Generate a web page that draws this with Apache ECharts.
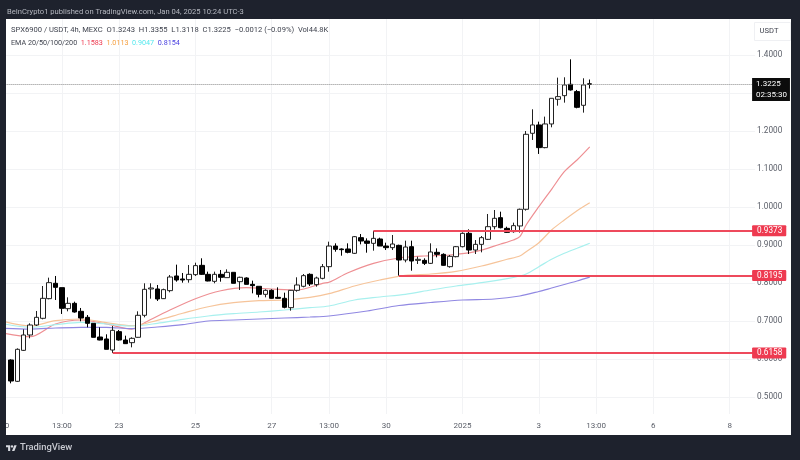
<!DOCTYPE html>
<html>
<head>
<meta charset="utf-8">
<style>html,body{margin:0;padding:0;background:#1e222d}#chart{width:800px;height:460px}</style>
<script src="https://cdn.jsdelivr.net/npm/echarts@6/dist/echarts.min.js"></script>
</head>
<body>
<div id="chart"></div>
<script>
// 4h candles, slot 0 of the axis is the half hidden "20" tick so candle n sits on slot n+1
const opens = [.5974,.5413,.6228,.6632,.6895,.7071,.7588,.7992,.7878,.7325,.7465,.7255,.7097,.6939,.6579,.6527,.6237,.6720,.6500,.6430,.6571,.7150,.7843,.7843,.7588,.7799,.8185,.8106,.8088,.8220,
  .8465,.8228,.8044,.8228,.8141,.8281,.8035,.8132,.7965,.7913,.7702,.7807,.7623,.7597,.7351,.7807,.7913,.8228,.7957,.8123,.8430,.8973,.8895,.8895,.8781,.9193,.9105,.9044,.9158,.8973,
  .8930,.8991,.8605,.8956,.8596,.8596,.8517,.8807,.8754,.8430,.8693,.8956,.9307,.8868,.9017,.9149,.9482,.9719,.9438,.9351,.9501,.9940,1.1939,1.2159,1.1562,1.2185,1.2834,1.2930,1.3229,1.3036,1.2676,1.3243]
const closes = [.5421,.6255,.6632,.6895,.7097,.7597,.8009,.7886,.7334,.7465,.7237,.7079,.6939,.6571,.6500,.6255,.6755,.6500,.6404,.6544,.7150,.7834,.7869,.7579,.7825,.8158,.8079,.8079,.8228,.8457,
  .8228,.8053,.8228,.8150,.8281,.7992,.8150,.7965,.7930,.7702,.7807,.7597,.7597,.7360,.7807,.7948,.8193,.7974,.8132,.8430,.8973,.8886,.8877,.8807,.9219,.9105,.9044,.9175,.8973,.8930,
  .9026,.8605,.8947,.8579,.8623,.8517,.8816,.8754,.8465,.8702,.8956,.9307,.8868,.9017,.9193,.9482,.9702,.9456,.9333,.9509,.9940,1.1913,1.2159,1.1562,1.2185,1.2860,1.2904,1.3211,1.3080,1.2623,1.3211,1.3225]
const lows = [.5360,.5395,.6211,.6544,.6869,.7044,.7571,.7553,.7185,.7255,.7220,.6992,.6834,.6571,.6492,.6255,.6158,.6483,.6395,.6307,.6562,.7097,.7588,.7527,.7579,.7755,.8035,.8009,.8009,.8185,
  .8211,.8044,.7992,.8035,.8141,.7992,.7816,.7965,.7728,.7623,.7623,.7588,.7588,.7334,.7272,.7772,.7886,.7921,.7904,.8097,.8298,.8824,.8719,.8781,.8763,.9017,.8798,.8851,.8973,.8868,
  .8868,.8195,.8544,.8324,.8500,.8473,.8500,.8675,.8456,.8403,.8675,.8938,.8763,.8763,.8807,.9131,.9412,.9438,.9324,.9324,.9326,.9905,1.1764,1.1396,1.1545,1.2097,1.2667,1.2746,1.3062,1.2597,1.2483,1.3118]
const highs = [.5992,.6281,.6781,.6939,.7264,.7921,.8141,.8185,.7878,.7623,.7509,.7343,.7158,.6939,.6834,.6650,.6869,.6764,.6614,.6571,.7255,.7992,.7992,.7948,.7851,.8211,.8483,.8264,.8474,.8535,
  .8650,.8299,.8299,.8343,.8360,.8281,.8167,.8150,.8062,.7913,.7834,.7834,.7886,.7746,.7816,.8150,.8237,.8255,.8167,.8500,.9088,.9044,.8912,.9044,.9237,.9289,.9175,.9373,.9193,.9061,
  .9263,.9009,.9114,.9114,.8693,.8649,.9044,.8912,.8781,.8737,.8973,.9333,.9412,.9131,.9237,.9816,.9921,.9877,.9482,.9588,.9957,1.1999,1.2571,1.2246,1.2378,1.2860,1.3404,1.3413,1.3886,1.3080,1.3387,1.3355]

const ema20Slots = [0,4,8,12,16,20,22,26,30,34,38,42,46,50,51,54,58,62,66,70,74,78,80,81,82,84,86,88,90,92]
const ema20 = [.6676,.6587,.6921,.7026,.6921,.6789,.6955,.7289,.7587,.7797,.7876,.7842,.7816,.7992,.8018,.8271,.8518,.8658,.8711,.8737,.8824,.9026,.9132,.9218,.9526,1.0008,1.0466,1.0929,1.1237,1.1583]
const ema50Slots = [0,4,8,12,16,20,24,28,32,36,40,44,48,51,55,59,63,67,71,75,79,81,82,84,86,88,90,92]
const ema50 = [.6982,.6868,.7008,.7053,.6955,.6876,.7018,.7203,.7376,.7482,.7534,.7553,.7624,.7719,.7921,.8079,.8203,.8237,.8308,.8447,.8624,.8711,.8824,.9061,.9395,.9658,.9903,1.0113]
const ema100Slots = [0,4,8,12,16,20,24,28,32,36,40,44,48,51,55,59,63,67,71,75,79,81,82,84,86,88,90,92]
const ema100 = [.6921,.6834,.6903,.6966,.6921,.6868,.6939,.7045,.7132,.7192,.7237,.7289,.7350,.7395,.7553,.7632,.7703,.7816,.7921,.8008,.8113,.8184,.8237,.8429,.8624,.8782,.8913,.9047]
const ema200Slots = [0,4,8,12,16,20,24,28,32,36,40,44,48,51,57,62,67,72,77,81,84,86,88,90,92]
const ema200 = [.6808,.6789,.6816,.6834,.6834,.6797,.6842,.6903,.7000,.7026,.7053,.7079,.7105,.7132,.7263,.7408,.7487,.7553,.7579,.7658,.7776,.7868,.7961,.8053,.8154]

const tickSlots = [0,9,18,30,42,51,60,72,84,93,102,114]
const tickTexts = ['20','13:00','23','25','27','13:00','30','2025','3','13:00','6','8']
const levelValues = [.9373,.8195,.6158]
const levelStarts = [58,62,17]
const lastPrice = 1.3225
const countdown = '02:35:30'
const legendLine = 'SPX6900 / USDT, 4h, MEXC  O1.3243  H1.3355  L1.3118  C1.3225  \u22120.0012 (\u22120.09%)  Vol44.8K'
const emaLegend = ['1.1583','1.0113','0.9047','0.8154']

const slotCount = 119
const lastSlot = slotCount - 1
const cats = []
for (let i = 0; i < slotCount; i++) {
    const t = tickSlots.indexOf(i)
    cats.push(t >= 0 ? tickTexts[t] : '')
}
const isTick = (i) => tickSlots.indexOf(i) >= 0

const velas = ['-'].concat(opens.map((o, i) => [o, closes[i], lows[i], highs[i]]))

function pares(slots, vals) {
    return slots.map((s, i) => [s, vals[i]])
}

function emaSerie(nome, slots, vals, cor) {
    return {
        name: nome, type: 'line', data: pares(slots, vals), smooth: 0.3, symbol: 'none', silent: true, z: 3,
        lineStyle: { color: cor, width: 1.2 }
    }
}

const font = 'Roboto'
const niveis = levelValues.map((v, i) => [
    { coord: [levelStarts[i], v] },
    {
        coord: [lastSlot, v],
        label: {
            show: true, position: 'end', distance: -3, formatter: v.toFixed(4), color: '#fff',
            backgroundColor: '#ee3a50', padding: [2, 4, 1, 5], borderRadius: 1, fontFamily: font, fontSize: 8.2
        }
    }
])

const precoLinha = [
    { coord: [0, lastPrice], lineStyle: { color: '#8a8a8a', width: 1, type: 'dotted' } },
    {
        coord: [lastSlot, lastPrice],
        label: {
            show: true, position: 'end', distance: -3, offset: [0, 5],
            formatter: lastPrice.toFixed(4) + '\n' + countdown, color: '#fff', align: 'left',
            backgroundColor: '#0c0c0c', padding: [1, 3, 0, 4], lineHeight: 11, fontFamily: font, fontSize: 8
        }
    }
]

const option = {
    animation: false,
    backgroundColor: '#1e222d',
    grid: { left: 4.63, right: 44.9, top: 19, bottom: 46, outerBoundsMode: 'none' },
    xAxis: {
        type: 'category', data: cats, boundaryGap: false,
        axisLine: { show: false }, axisTick: { show: false },
        axisLabel: { interval: (i) => isTick(i), color: '#5a5e68', fontFamily: font, fontSize: 8, margin: 8, showMinLabel: true },
        splitLine: { show: true, interval: (i) => isTick(i), lineStyle: { color: '#f2f3f5', width: 1 } }
    },
    yAxis: {
        type: 'value', position: 'right', scale: true, min: 0.4553, max: 1.4947, splitNumber: 10,
        axisLine: { show: false }, axisTick: { show: false },
        axisLabel: {
            color: '#5a5e68', fontFamily: font, fontSize: 8.2, margin: 2, showMinLabel: false, showMaxLabel: false,
            formatter: (v) => v.toFixed(4)
        },
        splitLine: { showMinLine: false, showMaxLine: false, lineStyle: { color: '#f2f3f5', width: 1 } }
    },
    series: [
        {
            name: 'SPX6900', type: 'candlestick', data: velas, barWidth: 5, z: 4, silent: true,
            itemStyle: { color: '#ffffff', color0: '#000000', borderColor: '#222222', borderColor0: '#000000', borderWidth: 1 },
            markLine: {
                symbol: 'none', silent: true, animation: false, z: 5,
                lineStyle: { color: '#ee4a5c', width: 2, type: 'solid' },
                label: { show: false },
                data: niveis.concat([precoLinha])
            }
        },
        emaSerie('EMA 20', ema20Slots, ema20, '#ee8f93'),
        emaSerie('EMA 50', ema50Slots, ema50, '#f6c49a'),
        emaSerie('EMA 100', ema100Slots, ema100, '#a8f0ee'),
        emaSerie('EMA 200', ema200Slots, ema200, '#9088e2')
    ],
    graphic: [
        { type: 'rect', z: -1, shape: { x: 6, y: 19, width: 785, height: 416 }, style: { fill: '#ffffff' } },
        { type: 'rect', z: 50, shape: { x: 0, y: 0, width: 6, height: 460 }, style: { fill: '#1e222d' } },
        {
            type: 'text', z: 60, x: 7, y: 12,
            style: { text: 'BeInCrypto1 published on TradingView.com, Jan 04, 2025 10:24 UTC-3', fill: '#b4b7bf', font: '7.6px Roboto', verticalAlign: 'middle' }
        },
        {
            type: 'text', z: 60, x: 11, y: 30.5,
            style: { text: legendLine, fill: '#40444f', font: '7.6px Roboto', verticalAlign: 'middle' }
        },
        {
            type: 'text', z: 60, x: 11, y: 43,
            style: {
                text: 'EMA 20/50/100/200  {a|' + emaLegend[0] + '}  {b|' + emaLegend[1] + '}  {c|' + emaLegend[2] + '}  {d|' + emaLegend[3] + '}',
                fill: '#40444f', font: '7.2px Roboto', verticalAlign: 'middle',
                rich: {
                    a: { fill: '#ee3a50', font: '7.2px Roboto' },
                    b: { fill: '#f5a040', font: '7.2px Roboto' },
                    c: { fill: '#55e8ee', font: '7.2px Roboto' },
                    d: { fill: '#4a40e0', font: '7.2px Roboto' }
                }
            }
        },
        { type: 'rect', z: 60, shape: { x: 754.5, y: 22.5, width: 36, height: 18 }, style: { fill: 'none', stroke: '#eff0f3' } },
        {
            type: 'text', z: 60, x: 769, y: 31,
            style: { text: 'USDT', fill: '#40444f', font: '7.6px Roboto', align: 'center', verticalAlign: 'middle' }
        },
        { type: 'polygon', z: 60, shape: { points: [[6, 445.2], [10.2, 445.2], [10.2, 451], [8.1, 451], [8.1, 447.3], [6, 447.3]] }, style: { fill: '#d8dae0' } },
        { type: 'circle', z: 60, shape: { cx: 12, cy: 446.4, r: 1.2 }, style: { fill: '#d8dae0' } },
        { type: 'polygon', z: 60, shape: { points: [[12, 451], [14.3, 445.2], [16.7, 445.2], [14.4, 451]] }, style: { fill: '#d8dae0' } },
        {
            type: 'text', z: 60, x: 20, y: 448,
            style: { text: 'TradingView', fill: '#c8cad1', font: '500 9.4px Roboto', verticalAlign: 'middle' }
        }
    ]
}

const chart = echarts.init(document.getElementById('chart'))
chart.setOption(option)
</script>
</body>
</html>
